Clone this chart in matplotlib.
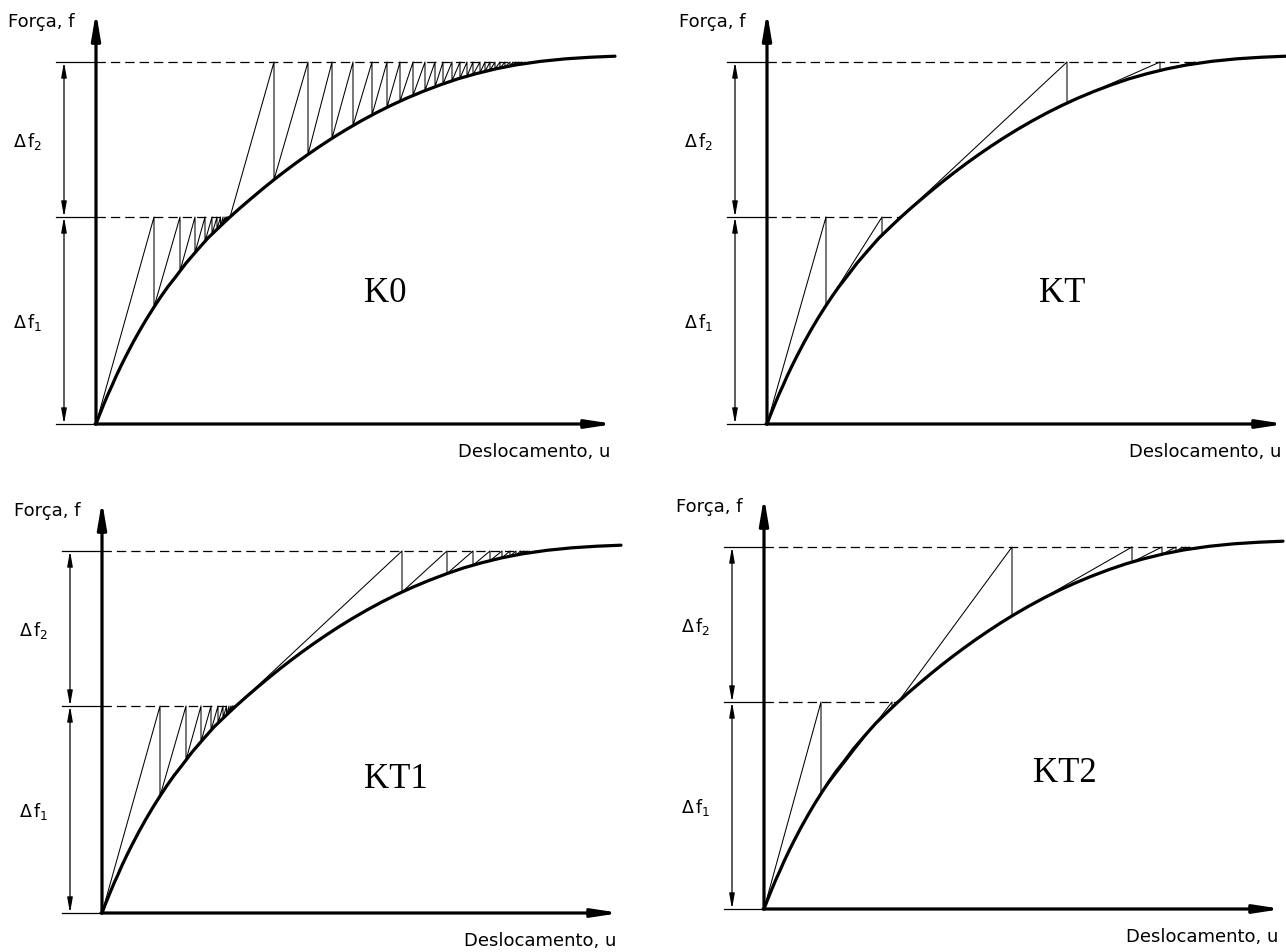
import matplotlib
matplotlib.use("Agg")
import matplotlib.pyplot as plt

W, H = 1286, 952

# Nonlinear load-displacement response (u, f)
curve_u = [0, 1, 2, 3, 5, 8, 12, 16, 20, 25, 30, 37, 44, 51, 58, 65, 72, 80, 90,
           101, 112, 123, 134, 145, 156, 167, 178, 189, 200, 212, 224, 237, 250,
           265, 280, 295, 310, 327, 345, 362, 380, 400, 420, 445, 470, 495, 519]
curve_f = [0, 2.6, 5.2, 7.8, 12.8, 20.2, 29.7, 38.4, 47.6, 58.1, 68.1, 81.5, 94,
           105.8, 116.9, 127.5, 137.4, 147.6, 160.8, 173.6, 186, 196.6, 207, 216.8,
           226.2, 235.4, 244.3, 252.8, 261.0, 269.6, 277.8, 286.3, 294.3, 303.0,
           311.1, 318.6, 325.5, 332.6, 339.4, 345.2, 350.3, 355.2, 359.1, 362.7,
           365.2, 366.8, 367.8]

# Load levels (f after increments Δf1 and Δf2) and converged displacements
load_levels = [207, 362]
converged_u = [134, 436]

# Corrector iterations: displacement of each iteration and the force reached on the curve
k0_step1_u = [58, 84, 99, 109, 116, 121, 124.5, 127, 129, 130.5, 131.5, 132.5, 133.2]
k0_step1_f = [116.9, 152.9, 171.3, 182.6, 189.9, 194.7, 198.0, 200.4, 202.3, 203.7,
              204.6, 205.6, 206.2]
k0_step2_u = [178, 212, 236, 257, 276, 291, 304, 317, 329, 339, 347, 356, 364, 371,
              377, 384, 389, 394, 399, 404, 409, 414, 417, 420, 423, 426, 429]
k0_step2_f = [244.3, 269.6, 285.6, 298.4, 308.9, 316.6, 322.7, 328.4, 333.4, 337.1,
              340.1, 343.2, 345.8, 347.7, 349.4, 351.3, 352.5, 353.7, 355.0, 356.0,
              357.0, 358.0, 358.5, 359.1, 359.5, 359.9, 360.4]

kt_step1_u = [59, 115, 133]
kt_step1_f = [118.4, 188.9, 206.1]
kt_step2_u = [300, 393, 428]
kt_step2_f = [320.9, 353.5, 360.3]

kt1_step1_u = k0_step1_u
kt1_step1_f = k0_step1_f
kt1_step2_u = [300, 345, 371, 388, 400, 408, 414, 418.5, 422, 425, 427.5]
kt1_step2_f = [320.9, 339.4, 347.7, 352.3, 355.2, 356.8, 358.0, 358.9, 359.4, 359.8, 360.2]

kt2_step1_u = [57, 128, 132.5]
kt2_step1_f = [115.3, 201.3, 205.6]
kt2_step2_u = [248, 368, 398, 412, 418, 421.5, 425]
kt2_step2_f = [293.1, 346.9, 354.7, 357.5, 358.7, 359.3, 359.8]

method_names = ["K0", "KT", "KT1", "KT2"]
y_label = "Força, f"
x_label = "Deslocamento, u"
delta_labels = [r"$\Delta\,\mathrm{f}_{1}$", r"$\Delta\,\mathrm{f}_{2}$"]

# panel origins in figure pixels (x from left, y from top) and title offsets
origins = [(96, 424), (767, 424), (102, 913), (764, 909)]
title_pos = [(289, 131), (295, 131), (294, 133), (301, 136)]
iterations = [
    [(k0_step1_u, k0_step1_f), (k0_step2_u, k0_step2_f)],
    [(kt_step1_u, kt_step1_f), (kt_step2_u, kt_step2_f)],
    [(kt1_step1_u, kt1_step1_f), (kt1_step2_u, kt1_step2_f)],
    [(kt2_step1_u, kt2_step1_f), (kt2_step2_u, kt2_step2_f)],
]

XMIN, XMAX, YMIN, YMAX = -110, 540, -50, 430
Y_AXIS_LEN, X_AXIS_LEN = 412, 518
TICK_X0, DIM_X = -40, -32

fig = plt.figure(figsize=(W / 100, H / 100), dpi=100)
fig.patch.set_facecolor("white")

for name, (ox, oy), (tx, ty), steps in zip(method_names, origins, title_pos, iterations):
    ax = fig.add_axes([(ox + XMIN) / W, (H - (oy - YMIN)) / H,
                       (XMAX - XMIN) / W, (YMAX - YMIN) / H])
    ax.set_xlim(XMIN, XMAX)
    ax.set_ylim(YMIN, YMAX)
    ax.axis("off")
    ax.patch.set_alpha(0)

    # load levels: short solid tick + dashed line up to the curve
    for lvl, uc in zip(load_levels, converged_u):
        ax.plot([TICK_X0, 0], [lvl, lvl], color="black", lw=0.9, clip_on=False)
        ax.plot([0, uc], [lvl, lvl], color="black", lw=0.9,
                dashes=(7.5, 4), clip_on=False)
    ax.plot([TICK_X0, 0], [0, 0], color="black", lw=0.9, clip_on=False)

    # dimension arrows for the load increments
    bounds = [0] + load_levels
    for lo, hi in zip(bounds[:-1], bounds[1:]):
        ax.annotate("", xy=(DIM_X, hi), xytext=(DIM_X, lo),
                    arrowprops=dict(arrowstyle="<|-|>,head_length=0.9,head_width=0.16",
                                    mutation_scale=10, lw=0.9, color="black",
                                    shrinkA=0, shrinkB=0))
    for lbl, lo, hi in zip(delta_labels, bounds[:-1], bounds[1:]):
        ax.text(-68, (lo + hi) / 2 - 2, lbl, ha="center", va="center",
                fontsize=12.5, family="DejaVu Sans", clip_on=False)

    # iteration paths
    start_u, start_f = 0, 0
    for (us, fs), lvl, uc in zip(steps, load_levels, converged_u):
        px, py = [start_u], [start_f]
        for u, f in zip(us, fs):
            px += [u, u]
            py += [lvl, f]
        ax.plot(px, py, color="black", lw=0.75, clip_on=False)
        start_u, start_f = uc, lvl

    # response curve
    ax.plot(curve_u, curve_f, color="black", lw=2.3, solid_capstyle="round",
            solid_joinstyle="round", clip_on=False)

    # axes with arrows
    ax.annotate("", xy=(0, Y_AXIS_LEN), xytext=(0, 0),
                arrowprops=dict(arrowstyle="-|>,head_length=1.3,head_width=0.22",
                                mutation_scale=12, lw=2.3, color="black",
                                shrinkA=0, shrinkB=0))
    ax.annotate("", xy=(X_AXIS_LEN, 0), xytext=(-1, 0),
                arrowprops=dict(arrowstyle="-|>,head_length=1.3,head_width=0.2",
                                mutation_scale=12, lw=2.3, color="black",
                                shrinkA=0, shrinkB=0))

    ax.text(-88, 402, y_label, ha="left", va="center", fontsize=13,
            family="DejaVu Sans", clip_on=False)
    ax.text(514, -28, x_label, ha="right", va="center", fontsize=13,
            family="DejaVu Sans", clip_on=False)
    ax.text(tx, ty, name, ha="center", va="center", fontsize=25,
            family="Liberation Serif", clip_on=False)

fig.savefig("out.png", dpi=100, facecolor="white")
